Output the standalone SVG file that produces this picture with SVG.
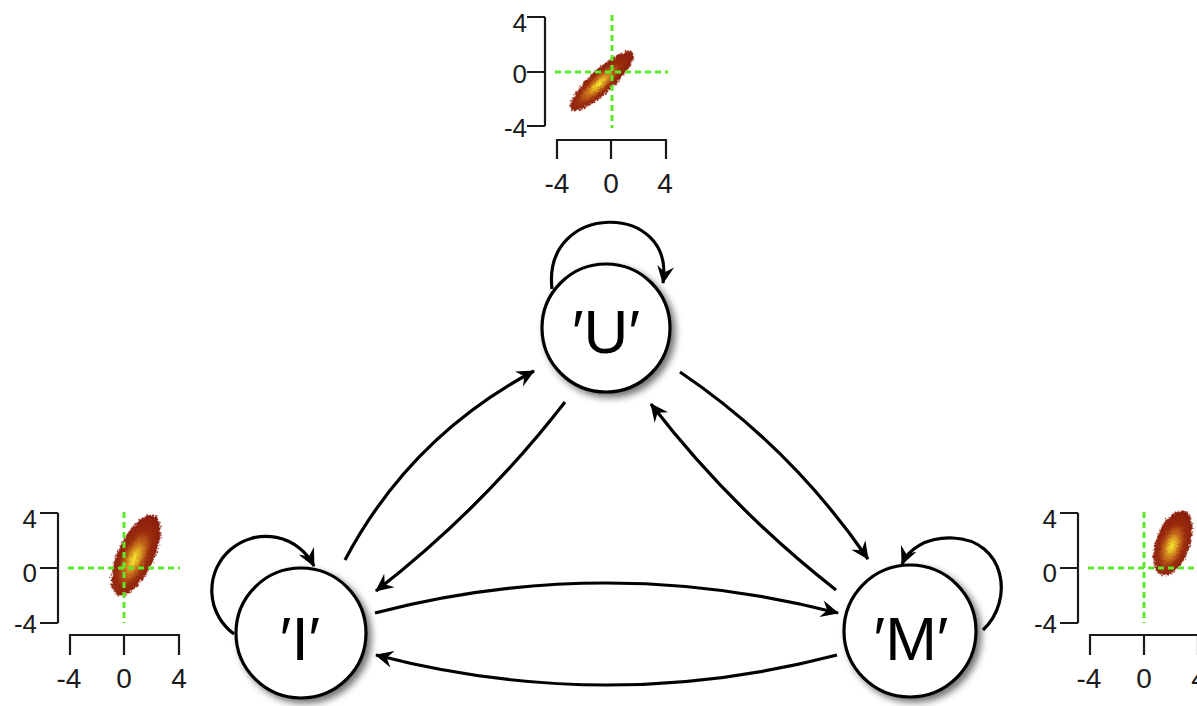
<svg xmlns="http://www.w3.org/2000/svg" width="1197" height="706" viewBox="0 0 1197 706">
<style>
.ax{fill:none;stroke:#1a1a1a;stroke-width:2.2}
.grid{fill:none;stroke:#5ee82a;stroke-width:3;stroke-dasharray:6 4}
.tl{font-family:"Liberation Sans",Arial,sans-serif;font-size:26px;fill:#1a1a1a}
.tx{font-family:"Liberation Sans",Arial,sans-serif;font-size:28px;fill:#1a1a1a;text-anchor:middle}
.node circle{fill:#fff;stroke:#000;stroke-width:3.2;filter:url(#shadow)}
.node text{font-family:"Liberation Sans",Arial,sans-serif;font-size:62px;fill:#000;text-anchor:middle}
.edge{fill:none;stroke:#000;stroke-width:3.2;marker-end:url(#ah)}
.blob{fill:url(#heat);filter:url(#rough)}
</style>
<defs>
<marker id="ah" markerUnits="userSpaceOnUse" markerWidth="24" markerHeight="24" viewBox="-20 -12 24 24" refX="0" refY="0" orient="auto">
<path d="M1,0 L-17,-8.5 L-11,0 L-17,8.5 Z" fill="#000"/>
</marker>
<filter id="shadow" x="-20%" y="-20%" width="150%" height="150%">
<feDropShadow dx="4" dy="4" stdDeviation="3.5" flood-color="#000" flood-opacity="0.55"/>
</filter>
<filter id="rough" x="-30%" y="-30%" width="160%" height="160%">
<feTurbulence type="fractalNoise" baseFrequency="0.55" numOctaves="2" seed="4" result="n"/>
<feDisplacementMap in="SourceGraphic" in2="n" scale="6" xChannelSelector="R" yChannelSelector="G"/>
</filter>
<radialGradient id="heat" cx="0.45" cy="0.5" r="0.55">
<stop offset="0" stop-color="#f8ee34"/>
<stop offset="0.15" stop-color="#e6bc26"/>
<stop offset="0.38" stop-color="#c2661a"/>
<stop offset="0.6" stop-color="#9a2e0f"/>
<stop offset="1" stop-color="#8a1c0a"/>
</radialGradient>
</defs>
<rect width="1197" height="706" fill="#fff"/>

<g id="plot-top">
<ellipse class="blob" cx="602" cy="81" rx="42" ry="12" transform="rotate(-43 602 81)"/>
<path class="grid" d="M612,15 V128 M555,72 H668"/>
<path class="ax" d="M545,17 V126 M527,17 H545 M527,72 H545 M527,126 H545"/>
<path class="ax" d="M557,159 V140 H666 V159 M611,140 V159"/>
<text class="tl" x="527" y="32" text-anchor="end">4</text>
<text class="tl" x="527" y="83" text-anchor="end">0</text>
<text class="tl" x="527" y="137" text-anchor="end">-4</text>
<text class="tx" x="557" y="193">-4</text>
<text class="tx" x="611" y="193">0</text>
<text class="tx" x="665" y="193">4</text>
</g>

<g id="plot-left">
<ellipse class="blob" cx="136" cy="555" rx="44" ry="18" transform="rotate(-65 136 555)"/>
<path class="grid" d="M124,512 V623 M68,568 H180"/>
<path class="ax" d="M58,513 V623 M40,513 H58 M40,568 H58 M40,623 H58"/>
<path class="ax" d="M70,655 V635 H179 V655 M124,635 V655"/>
<text class="tl" x="37" y="528" text-anchor="end">4</text>
<text class="tl" x="37" y="582" text-anchor="end">0</text>
<text class="tl" x="37" y="633" text-anchor="end">-4</text>
<text class="tx" x="69" y="688">-4</text>
<text class="tx" x="124" y="688">0</text>
<text class="tx" x="179" y="688">4</text>
</g>

<g id="plot-right">
<ellipse class="blob" cx="1173" cy="543" rx="34" ry="17" transform="rotate(-70 1173 543)"/>
<path class="grid" d="M1144,512 V623 M1088,568 H1197"/>
<path class="ax" d="M1078,513 V623 M1060,513 H1078 M1060,568 H1078 M1060,623 H1078"/>
<path class="ax" d="M1090,655 V635 H1198 V655 M1144,635 V655"/>
<text class="tl" x="1057" y="528" text-anchor="end">4</text>
<text class="tl" x="1057" y="582" text-anchor="end">0</text>
<text class="tl" x="1057" y="633" text-anchor="end">-4</text>
<text class="tx" x="1089" y="688">-4</text>
<text class="tx" x="1144" y="688">0</text>
<text class="tx" x="1199" y="688">4</text>
</g>

<g id="connectors">
<path class="edge" d="M552,289 C542,201 676,201 663,283"/>
<path class="edge" d="M234,634 A54,54 0 1 1 314,566"/>
<path class="edge" d="M983,630 C1015,600 1005,540 953,538 C925,537 908,550 902,564"/>
<path class="edge" d="M345,560 Q410,437 534,371"/>
<path class="edge" d="M565,402 Q483,508 376,591"/>
<path class="edge" d="M680,372 Q791,447 868,559"/>
<path class="edge" d="M836,590 Q731,508 651,404"/>
<path class="edge" d="M375,613 Q606,553 838,613"/>
<path class="edge" d="M837,655 Q607,715 376,655"/>
</g>

<g id="node-U" class="node">
<circle cx="606" cy="328" r="64"/>
<text x="606" y="353">′U′</text>
</g>
<g id="node-I" class="node">
<circle cx="301" cy="633" r="65"/>
<text x="300" y="660">′I′</text>
</g>
<g id="node-M" class="node">
<circle cx="910" cy="631" r="66"/>
<text x="911" y="660">′M′</text>
</g>
</svg>
